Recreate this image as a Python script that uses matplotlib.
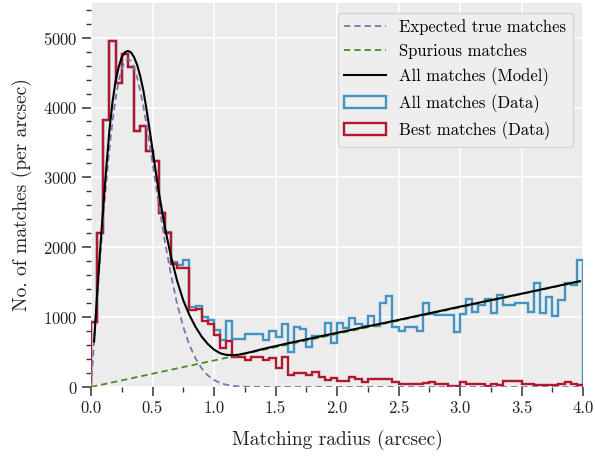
import numpy as np
import matplotlib
matplotlib.use("Agg")
import matplotlib.pyplot as plt
from matplotlib.ticker import MultipleLocator, FormatStrFormatter
from matplotlib.patches import Patch

plt.rcParams["font.family"] = ["cmr10", "DejaVu Serif"]
plt.rcParams["mathtext.fontset"] = "cm"
plt.rcParams["axes.formatter.use_mathtext"] = True

# Histogram of match separations, 0.05 arcsec bins from 0 to 4 arcsec
bin_edges = np.linspace(0.0, 4.0, 81)

best_matches = [
    930, 2200, 3825, 4945, 4350, 4770, 4580, 3660, 3730, 3380,
    3230, 2490, 2200, 1760, 1700, 1710, 1100, 1110, 945, 905,
    750, 555, 660, 434, 434, 387, 425, 434, 380, 410,
    268, 434, 172, 196, 205, 172, 220, 148, 100, 124,
    90, 90, 148, 115, 76, 110, 110, 110, 115, 76,
    43, 48, 48, 48, 55, 76, 43, 43, 15, 15,
    76, 48, 43, 43, 15, 48, 25, 90, 90, 90,
    43, 43, 35, 35, 35, 35, 43, 76, 48, 35,
]

all_matches = [
    930, 2200, 3825, 4945, 4350, 4770, 4580, 3660, 3730, 3380,
    3230, 2490, 2220, 1790, 1750, 1820, 1141, 1160, 995, 960,
    817, 673, 940, 683, 683, 759, 759, 759, 673, 807,
    720, 903, 506, 855, 826, 578, 725, 725, 912, 626,
    912, 850, 990, 900, 875, 1012, 875, 1199, 1304, 855,
    802, 860, 860, 807, 1199, 1050, 1025, 1025, 1025, 793,
    1045, 1256, 1079, 1175, 1256, 1056, 1318, 1175, 1175, 1208,
    1208, 1079, 1485, 1065, 1294, 1017, 1246, 1485, 1461, 1819,
]

# Model components
true_r = [0.0, 0.025, 0.05, 0.075, 0.1, 0.125, 0.15, 0.175, 0.2, 0.225,
          0.25, 0.275, 0.3, 0.325, 0.35, 0.375, 0.4, 0.425, 0.45, 0.475,
          0.5, 0.55, 0.6, 0.65, 0.7, 0.75, 0.8, 0.85, 0.9, 0.95,
          1.0, 1.05, 1.1, 1.15, 1.2, 1.3, 1.5, 4.0]
true_n = [0, 640, 1270, 1870, 2440, 2950, 3410, 3800, 4130, 4380,
          4550, 4660, 4690, 4670, 4570, 4430, 4240, 4020, 3770, 3490,
          3210, 2630, 2090, 1610, 1190, 860, 600, 410, 265, 165,
          100, 58, 32, 17, 9, 2, 0, 0]

spurious_r = [0.0, 4.0]
spurious_n = [0, 1520]

model_r = [0.025, 0.05, 0.075, 0.1, 0.125, 0.15, 0.175, 0.2, 0.225, 0.25,
           0.275, 0.3, 0.325, 0.35, 0.375, 0.4, 0.425, 0.45, 0.475, 0.5,
           0.55, 0.6, 0.65, 0.7, 0.75, 0.8, 0.85, 0.9, 0.95, 1.0,
           1.05, 1.1, 1.15, 1.2, 1.3, 1.4, 1.6, 2.0, 2.5, 3.0,
           3.5, 3.975]
model_n = [650, 1330, 1980, 2590, 3150, 3680, 4080, 4380, 4580, 4720,
           4790, 4810, 4790, 4720, 4610, 4450, 4250, 3990, 3700, 3400,
           2800, 2290, 1870, 1520, 1240, 1030, 860, 720, 615, 535,
           483, 460, 455, 462, 500, 545, 625, 775, 960, 1150,
           1335, 1515]

c_true = "#8073ac"
c_spur = "#4d8a26"
c_all = "#4393c3"
c_best = "#b2182b"

fig = plt.figure(figsize=(5.95, 4.57), dpi=100)
ax = fig.add_axes([91 / 595, 70 / 457, 492 / 595, 384.3 / 457])
ax.set_facecolor("#ececec")
for s in ax.spines.values():
    s.set_visible(False)

dash = (0, (3.5, 2.2))
l_true, = ax.plot(true_r, true_n, ls=dash, color=c_true, lw=1.3,
                  label="Expected true matches", zorder=4)
l_spur, = ax.plot(spurious_r, spurious_n, ls=dash, color=c_spur, lw=1.3,
                  label="Spurious matches", zorder=4)
l_model, = ax.plot(model_r, model_n, color="black", lw=1.5,
                   label="All matches (Model)", zorder=5)
ax.stairs(all_matches, bin_edges, color=c_all, lw=1.7, zorder=2)
ax.stairs(best_matches, bin_edges, color=c_best, lw=1.7, zorder=3)

ax.set_xlim(0, 4.0)
ax.set_ylim(0, 5500)
ax.xaxis.set_major_locator(MultipleLocator(0.5))
ax.xaxis.set_minor_locator(MultipleLocator(0.25))
ax.yaxis.set_major_locator(MultipleLocator(1000))
ax.yaxis.set_minor_locator(MultipleLocator(200))
ax.xaxis.set_major_formatter(FormatStrFormatter("%.1f"))
ax.grid(True, which="major", color="white", lw=1.2)
ax.set_axisbelow(True)
ax.tick_params(which="major", direction="out", length=6.5, width=1.1,
               color="#333333", labelsize=12, labelcolor="#222222", pad=3)
ax.tick_params(which="minor", direction="out", length=3.5, width=1.0,
               color="#333333")

ax.set_xlabel("Matching radius (arcsec)", fontsize=14, color="#222222",
              labelpad=10)
ax.set_ylabel("No. of matches (per arcsec)", fontsize=14, color="#222222",
              labelpad=8)

h_all = Patch(facecolor="none", edgecolor=c_all, lw=1.7,
              label="All matches (Data)")
h_best = Patch(facecolor="none", edgecolor=c_best, lw=1.7,
               label="Best matches (Data)")
leg = ax.legend(handles=[l_true, l_spur, l_model, h_all, h_best],
                loc="upper right", fontsize=12, handlelength=2.5,
                frameon=True, fancybox=True, borderaxespad=0.6)
leg.get_frame().set_facecolor("#eeeeee")
leg.get_frame().set_edgecolor("#d4d4d4")
leg.get_frame().set_alpha(1.0)

fig.savefig("out.png", dpi=100)
